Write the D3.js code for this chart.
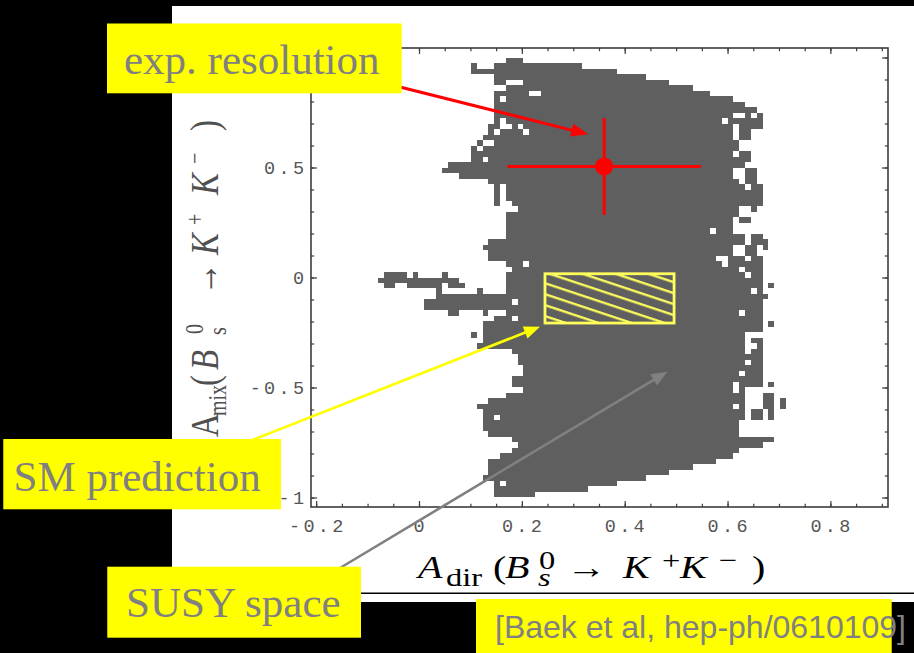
<!DOCTYPE html>
<html>
<head>
<meta charset="utf-8">
<script src="https://cdn.jsdelivr.net/npm/d3@7"></script>
<style>
  html, body { margin: 0; padding: 0; background: #000; overflow: hidden; }
  svg { display: block; }
</style>
</head>
<body>
<svg id="chart" width="914" height="653"></svg>
<script>
// ---------- data ----------
// axis ranges of the frame
const xDomain = [-0.21, 0.912];
const yDomain = [-1.0432, 1.0432];

// tick values
const xMajorTicks = [-0.2, 0, 0.2, 0.4, 0.6, 0.8];
const xTickLabels = ["-0.2", "0", "0.2", "0.4", "0.6", "0.8"];
const xMinorTicks = [-0.2, -0.15, -0.1, -0.05, 0, 0.05, 0.1, 0.15, 0.2, 0.25, 0.3, 0.35, 0.4, 0.45,
                     0.5, 0.55, 0.6, 0.65, 0.7, 0.75, 0.8, 0.85, 0.9];
const yMajorTicks = [-1, -0.5, 0, 0.5, 1];
const yLabelledTicks = [-1, -0.5, 0, 0.5];
const yTickLabels = ["-1", "-0.5", "0", "0.5"];
const yMinorTicks = [-1, -0.9, -0.8, -0.7, -0.6, -0.5, -0.4, -0.3, -0.2, -0.1, 0,
                     0.1, 0.2, 0.3, 0.4, 0.5, 0.6, 0.7, 0.8, 0.9, 1];

// scan grid of the allowed SUSY region: column c spans gridX0 + c*gridDX,
// row r spans gridY0 - r*gridDY (downwards)
const gridX0 = -0.0917;
const gridDX = 0.01134;
const gridY0 = 1.0;
const gridDY = 0.025;

// filled column runs [first, last] of every grid row
const susyRows = [
  [[23,25]],
  [[17,17],[21,35]],
  [[17,41]],
  [[21,46]],
  [[21,22],[26,50]],
  [[23,54]],
  [[21,26],[29,57]],
  [[21,21],[23,61]],
  [[21,63]],
  [[21,65]],
  [[21,61],[64,64],[66,66]],
  [[21,21],[23,59],[61,66]],
  [[20,21],[24,24],[26,61],[63,66]],
  [[20,20],[22,25],[27,61],[63,64]],
  [[19,61],[63,64]],
  [[18,18],[21,62]],
  [[17,17],[19,62]],
  [[17,61],[63,64]],
  [[17,18],[20,64]],
  [[13,63]],
  [[12,61],[64,65]],
  [[15,61],[64,65]],
  [[20,62],[64,65]],
  [[21,21],[23,63],[65,66]],
  [[21,21],[23,66]],
  [[21,21],[23,66]],
  [[21,21],[24,66]],
  [[25,62],[65,65]],
  [[23,62]],
  [[23,61],[63,64]],
  [[23,61]],
  [[23,57],[59,61]],
  [[23,63],[65,66]],
  [[20,63],[65,67]],
  [[19,61],[64,65],[67,67]],
  [[20,61],[64,65]],
  [[20,58],[61,63],[65,66]],
  [[23,25],[27,59],[61,66]],
  [[24,62],[64,66]],
  [[2,5],[7,7],[12,12],[23,63],[65,66]],
  [[1,14],[23,66]],
  [[2,3],[6,11],[13,15],[23,66],[68,68]],
  [[11,11],[18,18],[23,64],[66,66]],
  [[11,67]],
  [[9,23],[25,66]],
  [[9,66]],
  [[13,14],[19,19],[23,62],[64,66]],
  [[21,23],[25,66]],
  [[19,66],[68,68]],
  [[19,66]],
  [[17,17],[19,63]],
  [[19,63],[65,66]],
  [[18,63],[66,66]],
  [[24,63],[65,66]],
  [[25,66]],
  [[25,63],[65,66]],
  [[26,66]],
  [[26,62],[64,66]],
  [[24,66]],
  [[24,61],[63,66],[68,68]],
  [[26,61],[63,63]],
  [[23,63],[67,68]],
  [[20,63],[67,68],[70,70]],
  [[18,61],[63,63],[67,68],[70,70]],
  [[19,63],[65,66],[68,68]],
  [[19,20],[22,63],[65,66],[68,68]],
  [[19,62]],
  [[19,62]],
  [[20,62]],
  [[24,68]],
  [[25,66]],
  [[24,62]],
  [[22,61]],
  [[20,58]],
  [[20,54]],
  [[20,50]],
  [[19,46]],
  [[21,21],[23,41]],
  [[21,36]],
  [[21,27]]
];

// Standard Model prediction (A_dir range, A_mix range)
const smRangeX = [0.245, 0.496];
const smRangeY = [-0.207, 0.017];

// expected experimental resolution: central point and errors
const expPoint = [0.36, 0.505];
const expError = [0.188, 0.22];

// annotation arrow tips in data coordinates
const expArrowTip = [0.329, 0.651];
const smArrowTip = [0.2353, -0.2236];
const susyArrowTip = [0.483, -0.428];

// annotation texts
const labelTexts = ["exp. resolution", "SM prediction", "SUSY space"];
const citationText = "[Baek et al, hep-ph/0610109]";

// ---------- layout ----------
const W = 914, H = 653;
const frame = { left: 311, right: 888, top: 48, bottom: 507 };

const svg = d3.select("#chart");

const x = d3.scaleLinear().domain(xDomain).range([frame.left, frame.right]);
const y = d3.scaleLinear().domain(yDomain).range([frame.bottom, frame.top]);

// defs: diagonal hatch for the SM box
const defs = svg.append("defs");
const hatch = defs.append("pattern")
  .attr("id", "smHatch")
  .attr("patternUnits", "userSpaceOnUse")
  .attr("width", 24).attr("height", 10.4)
  .attr("patternTransform", "rotate(18.4)");
hatch.append("line")
  .attr("x1", -2).attr("x2", 26).attr("y1", 3.1).attr("y2", 3.1)
  .attr("stroke", "#ffff5c").attr("stroke-width", 2.3);

// page background: black with white slide panel
svg.append("rect").attr("width", W).attr("height", H).attr("fill", "#000");
svg.append("rect").attr("x", 172).attr("y", 6).attr("width", W - 172).attr("height", 596).attr("fill", "#fff");
svg.append("line").attr("x1", 172).attr("x2", W).attr("y1", 593.3).attr("y2", 593.3)
  .attr("stroke", "#000").attr("stroke-width", 1.4);

// ---------- SUSY region cells ----------
const cells = [];
susyRows.forEach((runs, r) => runs.forEach(([a, b]) => cells.push({ r, a, b })));

svg.append("g").attr("class", "susy-region")
  .selectAll("rect").data(cells).join("rect")
  .attr("x", d => x(gridX0 + d.a * gridDX))
  .attr("width", d => x(gridX0 + (d.b + 1) * gridDX) - x(gridX0 + d.a * gridDX))
  .attr("y", d => y(gridY0 - d.r * gridDY))
  .attr("height", d => y(gridY0 - (d.r + 1) * gridDY) - y(gridY0 - d.r * gridDY))
  .attr("fill", "#5f5f5f")
  .attr("shape-rendering", "crispEdges");

// ---------- SM prediction box ----------
const smG = svg.append("g").attr("class", "sm-box");
smG.append("rect")
  .attr("x", x(smRangeX[0])).attr("y", y(smRangeY[1]))
  .attr("width", x(smRangeX[1]) - x(smRangeX[0]))
  .attr("height", y(smRangeY[0]) - y(smRangeY[1]))
  .attr("fill", "url(#smHatch)")
  .attr("stroke", "#ffff5c").attr("stroke-width", 2.8);

// ---------- experimental resolution ----------
const expG = svg.append("g").attr("class", "exp-point");
expG.append("line")
  .attr("x1", x(expPoint[0] - expError[0])).attr("x2", x(expPoint[0] + expError[0]))
  .attr("y1", y(expPoint[1])).attr("y2", y(expPoint[1]))
  .attr("stroke", "#ff0000").attr("stroke-width", 3);
expG.append("line")
  .attr("x1", x(expPoint[0])).attr("x2", x(expPoint[0]))
  .attr("y1", y(expPoint[1] - expError[1])).attr("y2", y(expPoint[1] + expError[1]))
  .attr("stroke", "#ff0000").attr("stroke-width", 3);
expG.append("circle")
  .attr("cx", x(expPoint[0])).attr("cy", y(expPoint[1])).attr("r", 9)
  .attr("fill", "#ff0000");

// ---------- frame and ticks ----------
const axisColor = "#3c3c3c";
svg.append("rect")
  .attr("x", frame.left).attr("y", frame.top)
  .attr("width", frame.right - frame.left).attr("height", frame.bottom - frame.top)
  .attr("fill", "none").attr("stroke", axisColor).attr("stroke-width", 1.6);

function tickAxis(axisFn, values, size, transform) {
  const g = svg.append("g").attr("transform", transform)
    .call(axisFn.tickValues(values).tickSize(size).tickFormat(""));
  g.select(".domain").remove();
  g.selectAll(".tick line").attr("stroke", axisColor).attr("stroke-width", 1.2);
  return g;
}
// bottom / top: minor + major, pointing inwards
tickAxis(d3.axisBottom(x), xMinorTicks, -3.2, `translate(0,${frame.bottom})`);
tickAxis(d3.axisBottom(x), xMajorTicks, -6, `translate(0,${frame.bottom})`);
tickAxis(d3.axisTop(x), xMinorTicks, -3.2, `translate(0,${frame.top})`);
tickAxis(d3.axisTop(x), xMajorTicks, -6, `translate(0,${frame.top})`);
// left / right
tickAxis(d3.axisLeft(y), yMinorTicks, -3.2, `translate(${frame.left},0)`);
tickAxis(d3.axisLeft(y), yMajorTicks, -6, `translate(${frame.left},0)`);
tickAxis(d3.axisRight(y), yMinorTicks, -3.2, `translate(${frame.right},0)`);
tickAxis(d3.axisRight(y), yMajorTicks, -6, `translate(${frame.right},0)`);

// tick labels (spaced monospace)
const tickFont = { family: "'Liberation Mono', 'DejaVu Sans Mono', monospace", size: 18.5, spacing: 3.3, color: "#555" };
svg.append("g").attr("class", "x-tick-labels")
  .selectAll("text").data(xMajorTicks).join("text")
  .attr("x", d => x(d) + tickFont.spacing / 2)
  .attr("y", 532)
  .attr("text-anchor", "middle")
  .style("font-family", tickFont.family).style("font-size", tickFont.size + "px")
  .style("letter-spacing", tickFont.spacing + "px")
  .attr("fill", tickFont.color)
  .text((d, i) => xTickLabels[i]);
svg.append("g").attr("class", "y-tick-labels")
  .selectAll("text").data(yLabelledTicks).join("text")
  .attr("x", frame.left - 7 + tickFont.spacing)
  .attr("y", d => y(d) + 6.5)
  .attr("text-anchor", "end")
  .style("font-family", tickFont.family).style("font-size", tickFont.size + "px")
  .style("letter-spacing", tickFont.spacing + "px")
  .attr("fill", tickFont.color)
  .text((d, i) => yTickLabels[i]);

// ---------- axis titles (math-style pieces placed along the baseline) ----------
function mathLabel(parent, pieces, o) {
  const g = parent.append("g").attr("transform", `translate(${o.x},${o.y}) rotate(${o.rotate || 0})`);
  pieces.forEach(p => {
    const small = p.sub || p.sup;
    const dy = p.sub ? o.subShift : p.sup ? -o.supShift : 0;
    g.append("text")
      .attr("transform", `translate(${p.at},${dy}) scale(${o.stretch},1)`)
      .style("font-family", o.family)
      .style("font-size", (small ? o.small : o.size) + "px")
      .style("font-style", p.it ? "italic" : "normal")
      .attr("fill", o.color)
      .text(p.t);
  });
  return g;
}

const xTitle = [
  { t: "A", it: true, at: 0 }, { t: "dir", sub: true, at: 28 }, { t: "(", at: 75 },
  { t: "B", it: true, at: 87 }, { t: "s", sub: true, it: true, at: 120 }, { t: "0", sup: true, at: 121 },
  { t: "\u2192", at: 148 },
  { t: "K", it: true, at: 205 }, { t: "+", sup: true, at: 244 }, { t: "K", it: true, at: 262 },
  { t: "\u2212", sup: true, at: 301 }, { t: ")", at: 334 }
];
mathLabel(svg, xTitle, {
  x: 418, y: 578, size: 32, small: 26, subShift: 8, supShift: 9, stretch: 1.25,
  family: "'Liberation Serif', 'DejaVu Serif', serif", color: "#000"
});

const yTitle = [
  { t: "A", at: 0 }, { t: "mix", sub: true, at: 21 }, { t: "(", at: 51 },
  { t: "B", it: true, at: 67 }, { t: "s", sub: true, at: 102 }, { t: "0", sup: true, at: 103 },
  { t: "\u2192", at: 142 },
  { t: "K", it: true, at: 182 }, { t: "+", sup: true, at: 212 }, { t: "K", it: true, at: 242 },
  { t: "\u2212", sup: true, at: 273 }, { t: ")", at: 306 }
];
mathLabel(svg, yTitle, {
  x: 218, y: 437, rotate: -90, size: 41, small: 25, subShift: 8, supShift: 15, stretch: 0.8,
  family: "'Liberation Serif', 'DejaVu Serif', serif", color: "#505050"
});

// ---------- annotation arrows ----------
function arrow(from, tipData, color, width, headLen, headHalf) {
  const tx = x(tipData[0]), ty = y(tipData[1]);
  const ang = Math.atan2(ty - from[1], tx - from[0]);
  const bx = tx - headLen * Math.cos(ang), by = ty - headLen * Math.sin(ang);
  const g = svg.append("g");
  g.append("line")
    .attr("x1", from[0]).attr("y1", from[1]).attr("x2", bx + 2 * Math.cos(ang)).attr("y2", by + 2 * Math.sin(ang))
    .attr("stroke", color).attr("stroke-width", width);
  const nx = -Math.sin(ang), ny = Math.cos(ang);
  g.append("path")
    .attr("d", `M${tx},${ty}L${bx + nx * headHalf},${by + ny * headHalf}L${bx - nx * headHalf},${by - ny * headHalf}Z`)
    .attr("fill", color);
}
arrow([380, 82], expArrowTip, "#ff0000", 3, 17, 6.5);
arrow([245, 443], smArrowTip, "#ffff00", 2.6, 16, 6.5);
arrow([340, 568], susyArrowTip, "#808080", 2.6, 16, 6.5);

// ---------- label boxes ----------
const boxFont = "'Liberation Serif', 'Times New Roman', serif";
const boxes = [
  { x: 107, y: 23.5, w: 294.7, h: 69.8, tx: 124, ty: 74, text: labelTexts[0] },
  { x: 3.3, y: 439, w: 277.7, h: 70.3, tx: 13.5, ty: 491, text: labelTexts[1] },
  { x: 107.3, y: 566.7, w: 253.7, h: 71, tx: 126, ty: 616.7, text: labelTexts[2] }
];
const boxG = svg.append("g").attr("class", "labels");
boxes.forEach(b => {
  boxG.append("rect").attr("x", b.x).attr("y", b.y).attr("width", b.w).attr("height", b.h).attr("fill", "#ffff00");
  boxG.append("text").attr("x", b.tx).attr("y", b.ty)
    .style("font-family", boxFont).style("font-size", "43px")
    .attr("fill", "#808080").text(b.text);
});

// citation
svg.append("rect").attr("x", 476).attr("y", 599).attr("width", 415.7).attr("height", 54).attr("fill", "#ffff00");
svg.append("text").attr("x", 495).attr("y", 638)
  .style("font-family", "'Liberation Sans', Arial, sans-serif").style("font-size", "32px")
  .attr("fill", "#808080").text(citationText);
</script>
</body>
</html>
